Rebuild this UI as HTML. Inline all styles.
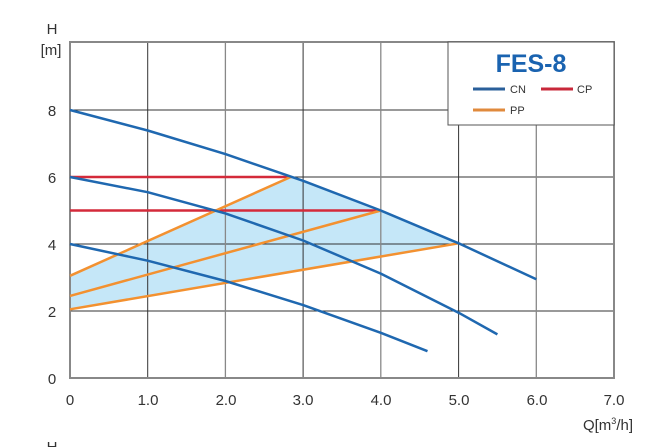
<!DOCTYPE html>
<html><head><meta charset="utf-8"><style>
html,body{margin:0;padding:0;background:#fff;}
svg{display:block;font-family:"Liberation Sans",sans-serif;}
</style></head><body>
<svg width="662" height="447" viewBox="0 0 662 447" xmlns="http://www.w3.org/2000/svg">
<rect width="662" height="447" fill="#fff"/>
<polygon points="70,275.8 291.5,176.6 303.1,180.8 380.8,210.5 458.6,243.3 70,309.3" fill="#c5e7f8"/>
<g stroke="#333" stroke-width="1">
<line x1="147.7" y1="42" x2="147.7" y2="378"/>
<line x1="303.1" y1="42" x2="303.1" y2="378"/>
<line x1="458.6" y1="125" x2="458.6" y2="378"/>
<line x1="70" y1="110" x2="614" y2="110"/>
<line x1="70" y1="177" x2="614" y2="177"/>
<line x1="70" y1="244" x2="614" y2="244"/>
<line x1="70" y1="311" x2="614" y2="311"/>
</g>
<g stroke="#888" stroke-width="1.3">
<line x1="225.4" y1="42" x2="225.4" y2="378"/>
<line x1="380.8" y1="42" x2="380.8" y2="378"/>
<line x1="536.3" y1="125" x2="536.3" y2="378"/>
</g>
<rect x="70" y="42" width="544" height="336" fill="none" stroke="#888" stroke-width="2"/>
<rect x="448" y="42" width="166" height="83" fill="#fff" stroke="#555" stroke-width="1"/>
<g stroke="#d42a3a" stroke-width="2.5" fill="none">
<line x1="70" y1="177" x2="291.5" y2="177"/>
<line x1="70" y1="210.5" x2="380.8" y2="210.5"/>
</g>
<g stroke="#f39130" stroke-width="2.5" fill="none">
<line x1="70" y1="275.8" x2="291.5" y2="176.6"/>
<line x1="70" y1="295.9" x2="380.8" y2="210.5"/>
<line x1="70" y1="309.3" x2="458.6" y2="243.3"/>
</g>
<g stroke="#1f68b0" stroke-width="2.5" fill="none" stroke-linejoin="round">
<polyline points="70,110 147.7,130.5 225.4,154.1 303.1,180.8 380.8,210.5 458.6,243.3 536.3,279.2"/>
<polyline points="70,177 147.7,192.2 225.4,213.4 303.1,240.5 380.8,273.6 458.6,312.7 497.4,334.4"/>
<polyline points="70,244 147.7,260.7 225.4,281 303.1,305.1 380.8,332.8 427.5,351.2"/>
</g>
<text x="531" y="72" text-anchor="middle" font-size="25" font-weight="bold" fill="#1a63b0">FES-8</text>
<line x1="473" y1="89" x2="505" y2="89" stroke="#2a5f9a" stroke-width="3"/>
<text x="510" y="93" font-size="11" fill="#333">CN</text>
<line x1="541" y1="89" x2="573" y2="89" stroke="#c8283a" stroke-width="3"/>
<text x="577" y="93" font-size="11" fill="#333">CP</text>
<line x1="473" y1="110" x2="505" y2="110" stroke="#e08a3c" stroke-width="3"/>
<text x="510" y="114" font-size="11" fill="#333">PP</text>
<g font-size="15" fill="#333">
<text x="52" y="34" text-anchor="middle">H</text>
<text x="51" y="55" text-anchor="middle">[m]</text>
<text x="52" y="116" text-anchor="middle">8</text>
<text x="52" y="183" text-anchor="middle">6</text>
<text x="52" y="250" text-anchor="middle">4</text>
<text x="52" y="317" text-anchor="middle">2</text>
<text x="52" y="384" text-anchor="middle">0</text>
<g text-anchor="middle">
<text x="70" y="405">0</text>
<text x="148" y="405">1.0</text>
<text x="226" y="405">2.0</text>
<text x="303" y="405">3.0</text>
<text x="381" y="405">4.0</text>
<text x="459" y="405">5.0</text>
<text x="537" y="405">6.0</text>
<text x="614" y="405">7.0</text>
</g>
<text x="633" y="430" text-anchor="end">Q[m<tspan font-size="9" dy="-6">3</tspan><tspan dy="6">/h]</tspan></text>
<text x="52" y="452" text-anchor="middle">H</text>
</g>
</svg>
</body></html>
